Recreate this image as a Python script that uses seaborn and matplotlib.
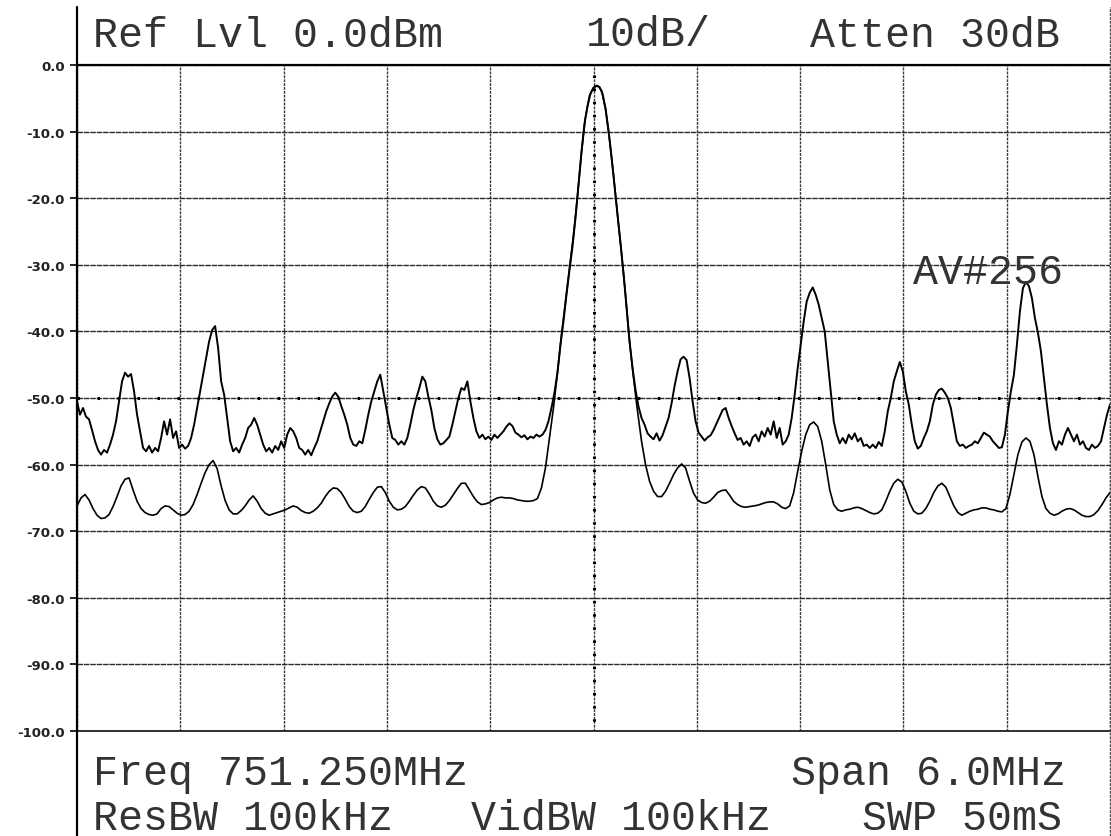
import numpy as np
import matplotlib
matplotlib.use("Agg")
import matplotlib.pyplot as plt
import seaborn as sns
from matplotlib.lines import Line2D

# ---------------- data ----------------
center_mhz = 751.25
span_mhz = 6.0
ref_level_db = 0.0
display_line_db = -50.0

# noisy trace (345 sweep points, evenly spaced across the span)
upper_db = [
    -50.5, -52.5, -51.5, -52.8, -53.2, -54.8, -56.5, -57.8, -58.5, -57.8,
    -58.2, -57.0, -55.5, -53.5, -50.5, -47.5, -46.2, -46.8, -46.4, -49.0,
    -52.5, -55.0, -57.5, -58.0, -57.2, -58.2, -57.5, -58.0, -56.0, -53.5,
    -55.5, -53.2, -56.0, -55.0, -57.5, -57.0, -57.6, -57.2, -56.0, -54.0,
    -51.5, -49.0, -46.5, -44.0, -41.5, -39.8, -39.2, -42.5, -47.5, -49.5,
    -53.0, -56.5, -58.0, -57.5, -58.2, -57.0, -56.0, -54.5, -54.0, -53.0,
    -54.0, -55.5, -57.0, -58.0, -57.5, -58.2, -57.2, -57.8, -56.5, -57.5,
    -55.5, -54.5, -55.0, -56.0, -57.5, -57.8, -58.5, -57.8, -58.6, -57.5,
    -56.5, -55.0, -53.5, -52.0, -50.8, -49.8, -49.2, -49.8, -51.2, -52.5,
    -54.0, -56.0, -57.0, -57.2, -56.5, -56.8, -54.8, -52.5, -50.5, -49.0,
    -47.5, -46.5, -49.0, -51.5, -54.0, -56.0, -56.3, -57.0, -56.5, -57.0,
    -56.0, -54.0, -51.8, -50.0, -48.5, -46.8, -47.5, -49.8, -51.8, -54.5,
    -56.2, -57.0, -56.8, -56.3, -55.8, -54.0, -52.0, -50.0, -48.5, -48.8,
    -47.5, -50.5, -53.0, -55.0, -56.0, -55.5, -56.2, -55.8, -56.3, -55.5,
    -56.0, -55.5, -55.0, -54.3, -53.8, -54.2, -55.2, -55.5, -55.9, -55.6,
    -56.2, -55.8, -56.0, -55.5, -55.8, -55.5, -54.8, -53.5, -51.5, -49.2,
    -46.2, -42.0, -38.5, -34.5, -30.8, -27.3, -23.0, -18.0, -13.0, -8.8,
    -6.2, -4.3, -3.4, -3.1, -3.3, -4.3, -6.5, -9.8, -13.8, -18.2,
    -22.5, -26.8, -31.3, -36.4, -41.5, -45.5, -48.8, -51.3, -53.0, -54.0,
    -55.3, -55.8, -56.2, -55.3, -56.4, -55.6, -54.3, -53.0, -50.8, -48.2,
    -46.0, -44.2, -43.8, -44.3, -47.0, -50.5, -53.5, -55.2, -55.8, -56.4,
    -55.9, -55.6, -54.8, -53.8, -52.8, -51.8, -51.5, -53.0, -54.2, -55.3,
    -56.3, -56.0, -57.0, -56.5, -57.2, -55.9, -55.5, -56.5, -55.0, -55.8,
    -54.5, -55.5, -53.5, -56.0, -54.5, -57.0, -56.5, -55.5, -53.0, -49.5,
    -45.5, -42.0, -38.5, -35.5, -34.2, -33.4, -34.5, -36.0, -38.0, -40.0,
    -44.5, -49.0, -53.5, -55.5, -56.8, -56.0, -56.8, -55.5, -56.2, -55.3,
    -56.5, -56.0, -57.2, -57.0, -57.5, -57.0, -57.5, -56.6, -57.2, -55.0,
    -52.0, -50.0, -47.5, -46.0, -44.6, -46.0, -49.0, -51.0, -54.0, -56.5,
    -57.6, -57.2, -56.0, -55.0, -53.5, -51.0, -49.5, -48.8, -48.6, -49.2,
    -50.0, -51.5, -54.0, -56.5, -57.2, -57.0, -57.5, -57.2, -57.0, -56.5,
    -56.8, -56.0, -55.2, -55.5, -55.8, -56.5, -57.0, -57.5, -57.4, -55.5,
    -52.0, -49.0, -46.5, -42.0, -37.0, -33.5, -32.6, -33.2, -35.0, -38.0,
    -40.2, -43.0, -47.0, -51.0, -54.5, -56.8, -57.8, -56.5, -57.0, -55.5,
    -54.5, -55.5, -56.5, -55.5, -57.0, -56.5, -57.5, -57.8, -57.0, -57.5,
    -57.2, -56.5, -54.5, -52.5, -51.0,
]

# smooth trace (259 sweep points, evenly spaced across the span)
lower_db = [
    -66.2, -65.0, -64.5, -65.3, -66.6, -67.6, -68.1, -68.0, -67.5, -66.3,
    -64.8, -63.2, -62.2, -62.0, -63.8, -65.5, -66.6, -67.2, -67.5, -67.6,
    -67.4, -66.6, -66.2, -66.3, -66.8, -67.3, -67.6, -67.5, -67.0, -66.0,
    -64.5, -62.8, -61.2, -60.0, -59.4, -60.6, -63.2, -65.4, -66.8, -67.4,
    -67.4, -66.9, -66.2, -65.3, -64.7, -65.5, -66.6, -67.3, -67.6, -67.4,
    -67.2, -67.0, -66.8, -66.5, -66.2, -66.4, -66.9, -67.2, -67.3, -67.0,
    -66.5, -65.8, -64.8, -64.0, -63.5, -63.6, -64.2, -65.2, -66.3, -67.0,
    -67.2, -67.0, -66.3, -65.2, -64.2, -63.4, -63.3, -64.2, -65.5, -66.4,
    -66.8, -66.7, -66.3, -65.5, -64.6, -63.8, -63.3, -63.5, -64.4, -65.5,
    -66.2, -66.4, -66.1, -65.4, -64.5, -63.6, -62.8, -62.8, -63.8, -64.8,
    -65.6, -66.0, -65.9, -65.7, -65.3, -65.0, -64.9, -65.0, -65.0, -65.1,
    -65.3, -65.4, -65.5, -65.5, -65.4, -65.1, -63.5, -60.5, -56.0, -51.5,
    -46.2, -40.5, -35.5, -30.6, -25.5, -19.7, -13.2, -7.8, -4.6, -3.4,
    -3.1, -3.8, -6.6, -11.2, -16.5, -22.5, -28.3, -34.5, -41.5, -47.0,
    -52.0, -56.5, -60.0, -62.5, -64.0, -64.8, -64.8, -64.0, -62.8, -61.5,
    -60.5, -59.9, -60.5, -62.5, -64.3, -65.3, -65.7, -65.8, -65.5, -64.9,
    -64.2, -63.9, -63.8, -64.6, -65.5, -66.0, -66.3, -66.4, -66.3, -66.2,
    -66.1, -65.9, -65.7, -65.6, -65.6, -65.9, -66.4, -66.6, -66.2, -64.2,
    -61.0, -58.0, -55.5, -54.0, -53.6, -54.3, -56.5, -60.0, -63.8, -66.0,
    -66.8, -67.0, -66.8, -66.7, -66.5, -66.4, -66.6, -66.9, -67.2, -67.4,
    -67.3, -66.8, -65.5, -64.0, -62.8, -62.2, -62.6, -64.0, -65.8, -67.0,
    -67.4, -67.3, -66.6, -65.5, -64.2, -63.2, -62.8, -63.4, -64.8, -66.2,
    -67.2, -67.6, -67.3, -67.0, -66.8, -66.7, -66.5, -66.5, -66.7, -66.8,
    -67.0, -67.1, -66.6, -64.5, -61.5, -58.5, -56.6, -56.0, -56.5, -58.5,
    -61.8, -64.8, -66.6, -67.3, -67.6, -67.4, -67.0, -66.7, -66.6, -66.8,
    -67.2, -67.6, -67.8, -67.8, -67.5, -66.9, -66.0, -65.0, -64.2,
]

y_ticks = [0, -10, -20, -30, -40, -50, -60, -70, -80, -90, -100]
y_tick_labels = ["0.0", "-10.0", "-20.0", "-30.0", "-40.0", "-50.0",
                 "-60.0", "-70.0", "-80.0", "-90.0", "-100.0"]

header_texts = ["Ref Lvl 0.0dBm", "10dB/", "Atten 30dB"]
footer_row1 = ["Freq 751.250MHz", "Span 6.0MHz"]
footer_row2 = ["ResBW 100kHz", "VidBW 100kHz", "SWP 50mS"]
average_label = "AV#256"

# ---------------- figure ----------------
sns.set_theme(style="white")
plt.rcParams["font.family"] = ["DejaVu Sans"]

W, H = 1111, 837
fig = plt.figure(figsize=(W / 100, H / 100), dpi=100)
fig.patch.set_facecolor("white")

def fx(px):
    return px / W

def fy(py):
    return 1 - py / H

ax = fig.add_axes([fx(77), fy(732), fx(1110) - fx(77), fy(66) - fy(732)])
ax.set_facecolor("white")

f_start = center_mhz - span_mhz / 2
f_stop = center_mhz + span_mhz / 2
f_upper = np.linspace(f_start, f_stop, len(upper_db))
f_lower = np.linspace(f_start, f_stop, len(lower_db))

sns.lineplot(x=f_upper, y=upper_db, ax=ax, color="black", lw=1.4,
             estimator=None, sort=False, zorder=5)
sns.lineplot(x=f_lower, y=lower_db, ax=ax, color="black", lw=1.2,
             estimator=None, sort=False, zorder=5)

ax.set_xlim(f_start, f_stop)
ax.set_ylim(-100, ref_level_db)

# grid
ax.set_xticks(np.linspace(f_start, f_stop, 11))
ax.set_xticklabels([])
ax.tick_params(axis="x", length=0)
ax.set_yticks(y_ticks)
ax.set_yticklabels(y_tick_labels, fontsize=9.5, fontweight="bold", color="#222222")
ax.tick_params(axis="y", length=5, width=1.2, color="black", pad=4, direction="out", left=True)
ax.xaxis.grid(True, color="#3a3a3a", lw=1.0, ls=(0, (2, 0.8)))
ax.yaxis.grid(True, color="#2a2a2a", lw=1.0, ls=(0, (4, 0.6)))
ax.set_axisbelow(True)

for s in ["top", "right", "bottom", "left"]:
    ax.spines[s].set_visible(False)
ax.axhline(ref_level_db, color="black", lw=1.6, zorder=3, clip_on=False)
ax.axhline(-100, color="#222222", lw=1.3, zorder=3, clip_on=False)

# marker line at center and display line
ax.plot([center_mhz, center_mhz], [-1.5, -100], color="black", lw=2.2,
        ls=(0, (0.8, 3.5)), zorder=4)
ax.axhline(display_line_db, color="black", lw=2.2, ls=(0, (0.8, 5.75)), zorder=4)

# full-height borders
fig.add_artist(Line2D([fx(77), fx(77)], [0, fy(8)], color="black", lw=1.6))
fig.add_artist(Line2D([fx(1109.5), fx(1109.5)], [0, fy(8)], color="#444444",
                      lw=1.0, ls=(0, (2, 0.8))))

# annotation text
mono = ["Liberation Mono", "DejaVu Sans Mono"]
tkw = dict(family=mono, fontsize=30, color="#333333", va="baseline")
fig.text(fx(93), fy(47), header_texts[0], ha="left", **tkw)
fig.text(fx(586), fy(46), header_texts[1], ha="left", **tkw)
fig.text(fx(810), fy(47), header_texts[2], ha="left", **tkw)
fig.text(fx(93), fy(785), footer_row1[0], ha="left", **tkw)
fig.text(fx(1066), fy(785), footer_row1[1], ha="right", **tkw)
fig.text(fx(93), fy(830), footer_row2[0], ha="left", **tkw)
fig.text(fx(471), fy(830), footer_row2[1], ha="left", **tkw)
fig.text(fx(1062), fy(830), footer_row2[2], ha="right", **tkw)
fig.text(fx(913), fy(284), average_label, ha="left", zorder=6, **tkw)

fig.savefig("out.png", dpi=100, facecolor="white")
